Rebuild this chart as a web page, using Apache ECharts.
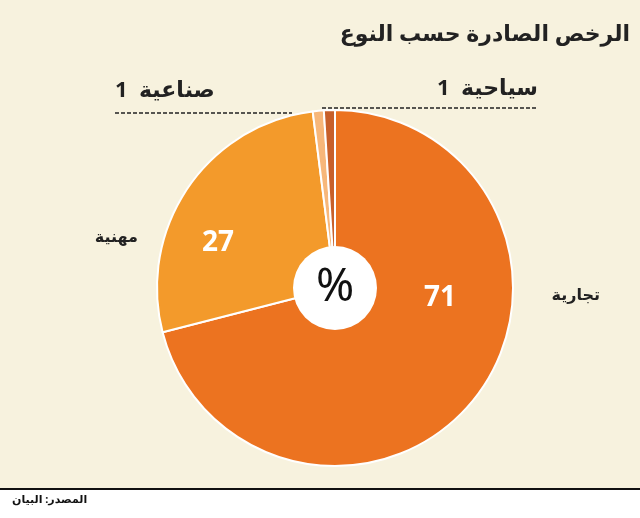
<!DOCTYPE html>
<html><head><meta charset="utf-8">
<script src="https://cdn.jsdelivr.net/npm/echarts@6/dist/echarts.min.js"></script>
<style>html,body{margin:0;padding:0;background:#fff}#c{width:640px;height:518px}</style>
</head><body><div id="c"></div>
<script>
const categories = ['تجارية', 'مهنية', 'صناعية', 'سياحية'];
const values = [71, 27, 1, 1];
const colors = ['#EC7320', '#F39A2B', '#F7B77A', '#C8602A'];
const title = 'الرخص الصادرة حسب النوع';
const source = 'المصدر: البيان';

const chart = echarts.init(document.getElementById('c'));
const F = '"Noto Sans","DejaVu Sans",sans-serif';
chart.setOption({
  backgroundColor: '#fff',
  animation: false,
  graphic: [
    {type:'rect', shape:{x:0,y:0,width:640,height:489}, style:{fill:'#F7F2DE'}, z:-10},
    {type:'line', shape:{x1:0,y1:489,x2:640,y2:489}, style:{stroke:'#111',lineWidth:2}},
    {type:'text', left:12, top:494, style:{text:source, font:'bold 11px '+F, fill:'#111'}},
    {type:'text', right:10, top:24, style:{text:title, font:'bold 22px '+F, fill:'#222'}},
    {type:'line', shape:{x1:115,y1:113,x2:292,y2:113}, style:{stroke:'#222',lineWidth:1.5,lineDash:[4,2]}},
    {type:'line', shape:{x1:322,y1:108,x2:538,y2:108}, style:{stroke:'#222',lineWidth:1.5,lineDash:[4,2]}},
    {type:'text', x:115, y:80, style:{text:values[2]+'  '+categories[2], font:'bold 22px '+F, fill:'#222'}},
    {type:'text', x:538, y:78, style:{text:categories[3]+'  '+values[3], font:'bold 22px '+F, fill:'#222', align:'right'}},
    {type:'text', x:600, y:295, style:{text:categories[0], font:'bold 16px '+F, fill:'#222', align:'right', verticalAlign:'middle'}},
    {type:'text', x:138, y:237, style:{text:categories[1], font:'bold 16px '+F, fill:'#222', align:'right', verticalAlign:'middle'}},
    {type:'text', z:100, x:440, y:298, style:{text:String(values[0]), font:'bold 28px '+F, fill:'#fff', align:'center', verticalAlign:'middle'}},
    {type:'text', z:100, x:218, y:243, style:{text:String(values[1]), font:'bold 28px '+F, fill:'#fff', align:'center', verticalAlign:'middle'}}
  ],
  series: [
    {type:'pie', center:[335,288], radius:[0,178], startAngle:90, clockwise:true,
     itemStyle:{borderColor:'#fff', borderWidth:2},
     label:{show:false}, labelLine:{show:false}, emphasis:{disabled:true},
     data: categories.map((c,i)=>({name:c, value:values[i], itemStyle:{color:colors[i]}}))},
    {type:'pie', center:[335,288], radius:[0,42], silent:true,
     itemStyle:{color:'#fff'}, emphasis:{disabled:true},
     label:{position:'center', formatter:'%', fontSize:46, color:'#111', fontFamily:F},
     data:[{value:1, name:'%'}]}
  ]
});
</script></body></html>
